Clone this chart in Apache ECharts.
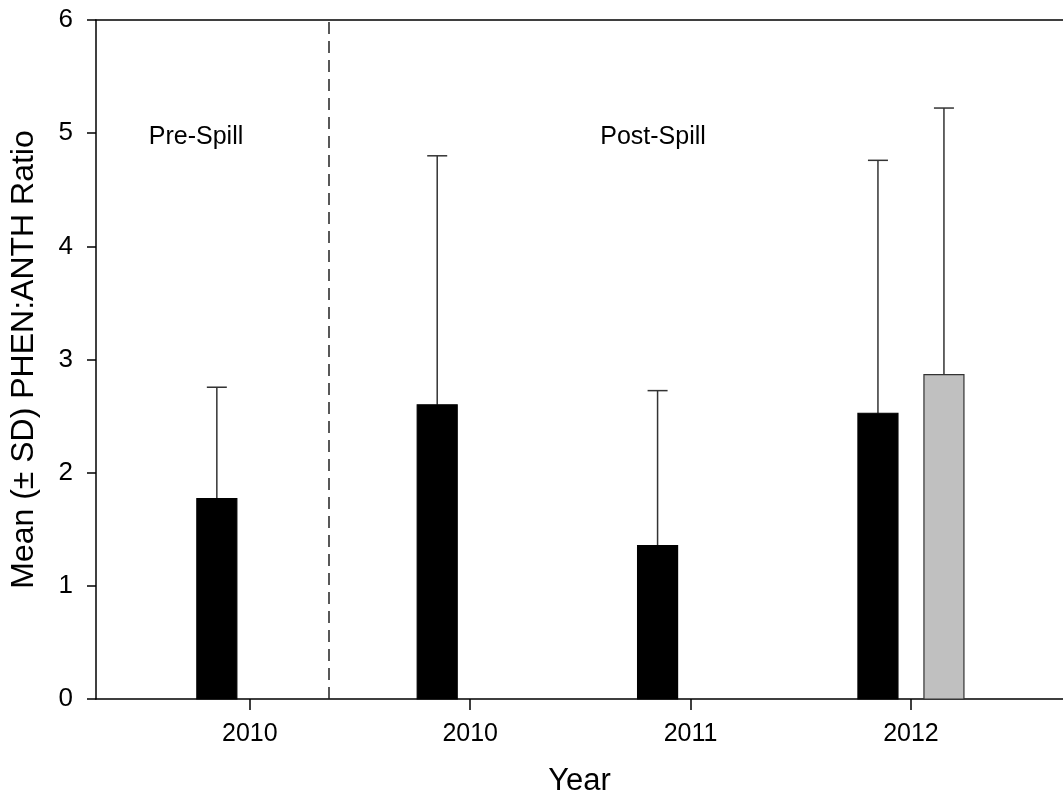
<!DOCTYPE html>
<html>
<head>
<meta charset="utf-8">
<script src="https://cdn.jsdelivr.net/npm/echarts@6/dist/echarts.min.js"></script>
<style>
html,body{margin:0;padding:0;background:#fff;}
#chart{width:1063px;height:802px;}
</style>
</head>
<body>
<div id="chart"></div>
<script>
// ---- data ----
const categories = ['2010', '2010', '2011', '2012'];
const categoryPositions = [1, 2, 3, 4];
const blackMeans = [1.77, 2.60, 1.355, 2.525];
const blackSD = [0.985, 2.20, 1.37, 2.235];
const grayMeans = [null, null, null, 2.866];
const graySD = [null, null, null, 2.356];
const yTicks = [0, 1, 2, 3, 4, 5, 6];
const dividerX = 1.363;
const periodLabels = ['Pre-Spill', 'Post-Spill'];

const FONT = '"Liberation Sans", Arial, sans-serif';

function buildData(means, sds) {
  const out = [];
  for (let i = 0; i < means.length; i++) {
    if (means[i] != null) out.push([categoryPositions[i], means[i], sds[i]]);
  }
  return out;
}

function makeRender(offset, fill, stroke) {
  return function (params, api) {
    const x = api.value(0), m = api.value(1), sd = api.value(2);
    const base = api.coord([x, 0]);
    const top = api.coord([x, m]);
    const err = api.coord([x, m + sd]);
    const cx = base[0] + offset;
    const bw = 40, cap = 10;
    return {
      type: 'group',
      children: [
        {
          type: 'line',
          shape: { x1: cx, y1: top[1], x2: cx, y2: err[1] },
          style: { stroke: '#333', lineWidth: 1.5 }
        },
        {
          type: 'line',
          shape: { x1: cx - cap, y1: err[1], x2: cx + cap, y2: err[1] },
          style: { stroke: '#333', lineWidth: 1.5 }
        },
        {
          type: 'rect',
          shape: { x: cx - bw / 2, y: top[1], width: bw, height: base[1] - top[1] },
          style: { fill: fill, stroke: stroke, lineWidth: 1.2 }
        }
      ]
    };
  };
}

const chart = echarts.init(document.getElementById('chart'));
const xMin = 0.3019, xMax = 4.690;
chart.setOption({
  animation: false,
  backgroundColor: '#fff',
  grid: { left: 95, right: 0, top: 20, bottom: 103, containLabel: false },
  xAxis: [
    {
      type: 'value', min: xMin, max: xMax,
      name: 'Year', nameLocation: 'middle', nameGap: 67,
      nameTextStyle: { fontFamily: FONT, fontSize: 31, color: '#000' },
      axisLine: { show: true, onZero: false, lineStyle: { color: '#000', width: 1.5 } },
      axisTick: { show: true, customValues: categoryPositions, length: 11, lineStyle: { color: '#000', width: 1.5 } },
      axisLabel: {
        customValues: categoryPositions, margin: 23,
        fontFamily: FONT, fontSize: 25, color: '#000',
        formatter: function (v) { return categories[categoryPositions.indexOf(Math.round(v))] || ''; }
      },
      splitLine: { show: false }
    },
    {
      type: 'value', min: xMin, max: xMax, position: 'top',
      axisLine: { show: true, onZero: false, lineStyle: { color: '#000', width: 1.5 } },
      axisTick: { show: false }, axisLabel: { show: false }, splitLine: { show: false }
    }
  ],
  yAxis: {
    type: 'value', min: 0, max: 6, interval: 1,
    name: 'Mean (± SD) PHEN:ANTH Ratio', nameLocation: 'middle', nameGap: 56,
    nameTextStyle: { fontFamily: FONT, fontSize: 32, color: '#000' },
    axisLine: { show: true, lineStyle: { color: '#000', width: 1.5 } },
    axisTick: { show: true, length: 9, lineStyle: { color: '#000', width: 1.5 } },
    axisLabel: {
      margin: 23, fontFamily: FONT, fontSize: 26, color: '#000',
      formatter: function (v) { return yTicks.indexOf(v) >= 0 ? String(v) : ''; }
    },
    splitLine: { show: false }
  },
  graphic: [
    { type: 'text', x: 196, y: 137, style: { text: periodLabels[0], font: '25px ' + FONT, fill: '#000', textAlign: 'center', textVerticalAlign: 'middle' } },
    { type: 'text', x: 653, y: 137, style: { text: periodLabels[1], font: '25px ' + FONT, fill: '#000', textAlign: 'center', textVerticalAlign: 'middle' } }
  ],
  series: [
    {
      type: 'custom', name: 'black', data: buildData(blackMeans, blackSD),
      renderItem: makeRender(-33, '#000', '#000'),
      markLine: {
        silent: true, symbol: 'none', label: { show: false },
        lineStyle: { type: [12, 7], color: '#222', width: 1.5 },
        data: [{ xAxis: dividerX }]
      }
    },
    {
      type: 'custom', name: 'gray', data: buildData(grayMeans, graySD),
      renderItem: makeRender(33, '#c0c0c0', '#333')
    }
  ]
});
</script>
</body>
</html>
